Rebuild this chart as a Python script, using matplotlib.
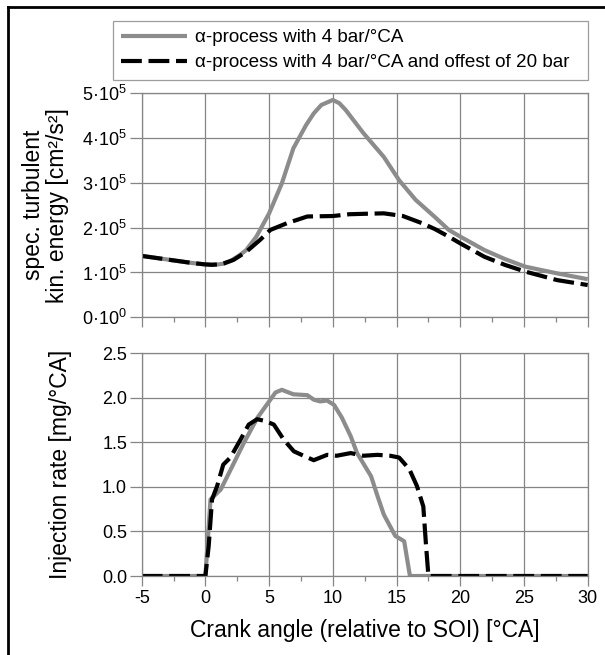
import matplotlib
matplotlib.use("Agg")
import matplotlib.pyplot as plt
from matplotlib.lines import Line2D
from matplotlib.ticker import MultipleLocator, FixedLocator, FormatStrFormatter

plt.rcParams["font.family"] = ["Liberation Sans", "DejaVu Sans"]
plt.rcParams["mathtext.fontset"] = "custom"
plt.rcParams["mathtext.rm"] = "Liberation Sans"
plt.rcParams["mathtext.it"] = "Liberation Sans"
plt.rcParams["axes.unicode_minus"] = False

# Turbulent kinetic energy [1e5 cm^2/s^2]
tke_x_solid = [-5, -4, -3, -2, -1, 0, 1, 1.5, 2, 2.7, 3.2, 4, 5, 6, 6.9, 7.9, 8.5, 9.1,
               10, 10.5, 11, 12.4, 14, 15.2, 16.5, 18, 19.1, 20, 21.9, 23.5, 25.1, 27.6, 30]
tke_solid = [1.37, 1.33, 1.29, 1.25, 1.21, 1.18, 1.18, 1.20, 1.26, 1.39, 1.50, 1.80, 2.32, 2.99,
             3.77, 4.29, 4.55, 4.74, 4.85, 4.78, 4.63, 4.11, 3.58, 3.06, 2.62, 2.24, 1.95, 1.80,
             1.50, 1.30, 1.13, 0.98, 0.85]

tke_x_dashed = [-5, -4, -3, -2, -1, 0, 0.5, 1, 1.5, 2.2, 3.2, 4.3, 5.1, 6.4, 8, 10, 11.3, 12.5,
                14, 15.5, 17, 18, 19.1, 20, 21.9, 23.5, 25.1, 27.6, 30]
tke_dashed = [1.37, 1.33, 1.29, 1.25, 1.21, 1.18, 1.17, 1.18, 1.21, 1.28, 1.46, 1.73, 1.95, 2.10,
              2.25, 2.26, 2.30, 2.31, 2.32, 2.26, 2.10, 1.97, 1.80, 1.65, 1.35, 1.17, 1.02, 0.83, 0.72]

# Injection rate [mg/°CA]
inj_x_solid = [-5, 0, 0.4, 1.2, 2, 3, 4.1, 5, 5.5, 6, 6.9, 8, 8.5, 9, 9.55, 10.1, 10.7, 11.4,
               11.9, 13, 13.5, 14, 14.9, 15.6, 16.05, 30]
inj_solid = [0, 0, 0.86, 0.97, 1.20, 1.49, 1.78, 1.96, 2.06, 2.09, 2.04, 2.03, 1.98, 1.96, 1.97,
             1.92, 1.78, 1.57, 1.38, 1.12, 0.90, 0.69, 0.45, 0.39, 0, 0]

inj_x_dashed = [-5, 0, 0.26, 0.52, 0.92, 1.4, 1.96, 2.75, 3.4, 4.06, 4.7, 5.37, 6.15, 6.94, 7.7,
                8.5, 9.55, 10.3, 11.4, 12.4, 13.5, 14.5, 15.2, 16.0, 16.6, 17.1, 17.3, 17.5, 30]
inj_dashed = [0, 0, 0.34, 0.86, 1.01, 1.25, 1.33, 1.53, 1.70, 1.76, 1.74, 1.70, 1.53, 1.40, 1.35,
              1.30, 1.36, 1.35, 1.38, 1.35, 1.36, 1.35, 1.33, 1.20, 1.01, 0.78, 0.37, 0, 0]

legend_labels = ["α-process with 4 bar/°CA", "α-process with 4 bar/°CA and offest of 20 bar"]
tke_ticks = [0, 1, 2, 3, 4, 5]
tke_tick_labels = [r"$0·10^{0}$"] + [r"$%d·10^{5}$" % v for v in tke_ticks[1:]]
x_ticks = [-5, 0, 5, 10, 15, 20, 25, 30]

GRAY = "#8c8c8c"
GRID = "#858585"
DASH = (5, 1.6)


def style_axes(ax):
    ax.set_xlim(-5, 30)
    ax.xaxis.set_major_locator(FixedLocator(x_ticks))
    ax.xaxis.set_minor_locator(MultipleLocator(2.5))
    ax.grid(True, which="major", color=GRID, linewidth=0.9)
    ax.set_axisbelow(True)
    for s in ax.spines.values():
        s.set_color(GRID)
        s.set_linewidth(0.9)
    ax.tick_params(axis="x", which="major", direction="out", length=7, width=0.9, color=GRID,
                   labelsize=13, pad=3)
    ax.tick_params(axis="x", which="minor", direction="out", length=3.5, width=0.9, color=GRID)
    ax.tick_params(axis="y", which="major", direction="out", length=8.5, width=0.9, color=GRID,
                   labelsize=13, pad=2)


fig = plt.figure(figsize=(6.05, 6.55), dpi=100)
ax1 = fig.add_axes([0.2342, 0.5156, 0.7372, 0.342])
ax2 = fig.add_axes([0.2342, 0.1206, 0.7372, 0.340])

l1, = ax1.plot(tke_x_solid, tke_solid, color=GRAY, linewidth=3.0, solid_capstyle="butt")
l2, = ax1.plot(tke_x_dashed, tke_dashed, color="black", linewidth=3.0, dashes=DASH,
               dash_capstyle="butt")
style_axes(ax1)
ax1.set_ylim(0, 5)
ax1.set_yticks(tke_ticks)
ax1.set_yticklabels(tke_tick_labels)
ax1.tick_params(axis="x", labelbottom=False)
ax1.set_ylabel("spec. turbulent\nkin. energy [cm²/s²]", fontsize=16.5, linespacing=1.05)
ax1.yaxis.set_label_coords(-0.163, 0.5)

ax2.plot(inj_x_solid, inj_solid, color=GRAY, linewidth=3.0, solid_capstyle="butt")
ax2.plot(inj_x_dashed, inj_dashed, color="black", linewidth=3.0, dashes=DASH,
         dash_capstyle="butt")
style_axes(ax2)
ax2.set_ylim(0, 2.5)
ax2.yaxis.set_major_locator(MultipleLocator(0.5))
ax2.yaxis.set_major_formatter(FormatStrFormatter("%.1f"))
ax2.set_ylabel("Injection rate [mg/°CA]", fontsize=16.5)
ax2.yaxis.set_label_coords(-0.157, 0.5)
ax2.set_xlabel("Crank angle (relative to SOI) [°CA]", fontsize=16.5, labelpad=9)

leg = fig.legend([l1, l2], legend_labels, loc="upper left",
                 bbox_to_anchor=(0.1863, 0.884, 0.9714 - 0.1863, 0.9684 - 0.884),
                 mode="expand", fontsize=13.6, frameon=True, fancybox=False,
                 handlelength=3.5, handletextpad=0.4, borderaxespad=0, borderpad=0.45,
                 labelspacing=0.4)
leg.get_frame().set_edgecolor(GRID)
leg.get_frame().set_linewidth(0.9)

# outer frame (top and left edges only)
fig.add_artist(Line2D([8 / 605, 8 / 605], [0, 1 - 7 / 655], color="black", linewidth=2,
                      transform=fig.transFigure))
fig.add_artist(Line2D([8 / 605, 1], [1 - 7 / 655, 1 - 7 / 655], color="black", linewidth=2,
                      transform=fig.transFigure))

fig.savefig("out.png", dpi=100)
